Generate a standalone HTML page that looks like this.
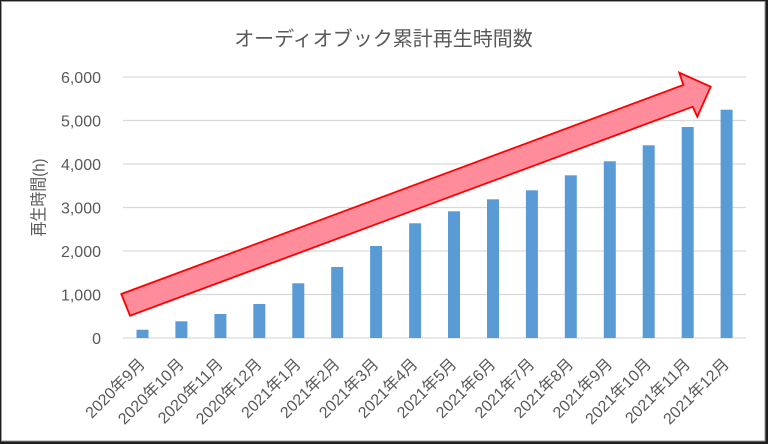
<!DOCTYPE html>
<html>
<head>
<meta charset="utf-8">
<style>
html,body{margin:0;padding:0;background:#fff;}
svg{display:block;}
text{font-family:"Liberation Sans","Noto Sans CJK JP",sans-serif;fill:#595959;}
</style>
</head>
<body>
<svg width="768" height="444" viewBox="0 0 768 444" xmlns="http://www.w3.org/2000/svg">
  <rect x="0" y="0" width="768" height="444" fill="#1e1e1e"/>
  <rect x="1.5" y="1.5" width="763.5" height="439.5" fill="#ffffff" stroke="#9a9a9a" stroke-width="1"/>

  <!-- title -->
  <text x="383.5" y="45.5" font-size="20" text-anchor="middle">オーディオブック累計再生時間数</text>

  <!-- gridlines -->
  <g stroke="#d9d9d9" stroke-width="1.2">
    <line x1="123" y1="77" x2="746" y2="77"/>
    <line x1="123" y1="120.5" x2="746" y2="120.5"/>
    <line x1="123" y1="164" x2="746" y2="164"/>
    <line x1="123" y1="207.5" x2="746" y2="207.5"/>
    <line x1="123" y1="251" x2="746" y2="251"/>
    <line x1="123" y1="294.5" x2="746" y2="294.5"/>
    <line x1="123" y1="338" x2="746" y2="338"/>
  </g>

  <!-- y tick labels -->
  <g font-size="16" text-anchor="end">
    <text x="101" y="82.8">6,000</text>
    <text x="101" y="126.3">5,000</text>
    <text x="101" y="169.8">4,000</text>
    <text x="101" y="213.3">3,000</text>
    <text x="101" y="256.8">2,000</text>
    <text x="101" y="300.3">1,000</text>
    <text x="101" y="343.8">0</text>
  </g>

  <!-- y axis title -->
  <text transform="translate(44.5,197.5) rotate(-90)" font-size="17" text-anchor="middle" textLength="78" lengthAdjust="spacingAndGlyphs">再生時間(h)</text>

  <!-- bars -->
  <g fill="#5b9bd5">
    <rect x="136.5" y="329.7" width="12" height="8.3"/>
    <rect x="175.4" y="321.3" width="12" height="16.7"/>
    <rect x="214.4" y="314" width="12" height="24"/>
    <rect x="253.3" y="304" width="12" height="34"/>
    <rect x="292.3" y="283.3" width="12" height="54.7"/>
    <rect x="331.2" y="267" width="12" height="71"/>
    <rect x="370.1" y="246" width="12" height="92"/>
    <rect x="409.1" y="223.3" width="12" height="114.7"/>
    <rect x="448.0" y="211.3" width="12" height="126.7"/>
    <rect x="487.0" y="199.3" width="12" height="138.7"/>
    <rect x="525.9" y="190.3" width="12" height="147.7"/>
    <rect x="564.8" y="175.3" width="12" height="162.7"/>
    <rect x="603.8" y="161.3" width="12" height="176.7"/>
    <rect x="642.7" y="145.3" width="12" height="192.7"/>
    <rect x="681.7" y="127" width="12" height="211"/>
    <rect x="720.6" y="109.7" width="12" height="228.3"/>
  </g>

  <!-- x labels -->
  <g font-size="16" text-anchor="end">
    <text x="146" y="365" transform="rotate(-45 146 365)">2020年9月</text>
    <text x="184.9" y="365" transform="rotate(-45 184.9 365)">2020年10月</text>
    <text x="223.9" y="365" transform="rotate(-45 223.9 365)">2020年11月</text>
    <text x="262.8" y="365" transform="rotate(-45 262.8 365)">2020年12月</text>
    <text x="301.8" y="365" transform="rotate(-45 301.8 365)">2021年1月</text>
    <text x="340.7" y="365" transform="rotate(-45 340.7 365)">2021年2月</text>
    <text x="379.6" y="365" transform="rotate(-45 379.6 365)">2021年3月</text>
    <text x="418.6" y="365" transform="rotate(-45 418.6 365)">2021年4月</text>
    <text x="457.5" y="365" transform="rotate(-45 457.5 365)">2021年5月</text>
    <text x="496.5" y="365" transform="rotate(-45 496.5 365)">2021年6月</text>
    <text x="535.4" y="365" transform="rotate(-45 535.4 365)">2021年7月</text>
    <text x="574.3" y="365" transform="rotate(-45 574.3 365)">2021年8月</text>
    <text x="613.3" y="365" transform="rotate(-45 613.3 365)">2021年9月</text>
    <text x="652.2" y="365" transform="rotate(-45 652.2 365)">2021年10月</text>
    <text x="691.2" y="365" transform="rotate(-45 691.2 365)">2021年11月</text>
    <text x="730.1" y="365" transform="rotate(-45 730.1 365)">2021年12月</text>
  </g>

  <!-- arrow -->
  <polygon points="121.3,294 683.3,85 679.3,72.7 710.7,86.7 697.3,116.7 692.7,106.7 130,315.7"
           fill="#ff8c9b" stroke="#ff0000" stroke-width="1.8" stroke-linejoin="miter"/>
</svg>
</body>
</html>
